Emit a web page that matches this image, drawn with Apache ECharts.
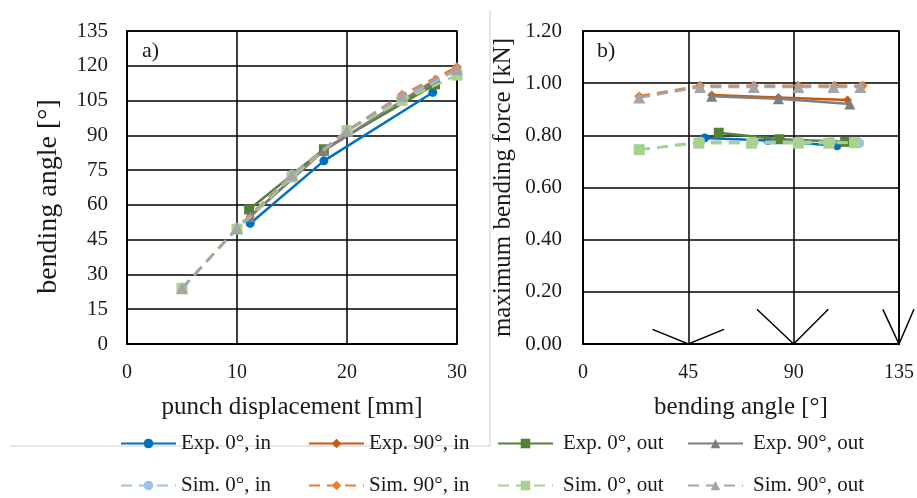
<!DOCTYPE html>
<html>
<head>
<meta charset="utf-8">
<script src="https://cdn.jsdelivr.net/npm/echarts@6/dist/echarts.min.js"></script>
<style>
html,body{margin:0;padding:0;background:#fff;}
#chart{width:917px;height:498px;}
</style>
</head>
<body>
<div id="chart"></div>
<script>
// ---------- data ----------
// a) bending angle vs punch displacement
var exp0inDisp   = [11.2, 17.9, 27.8];
var exp0inAngle  = [52, 79, 108.5];
var exp90inDisp  = [11.2, 17.9, 27.9];
var exp90inAngle = [55, 83.5, 113];
var exp0outDisp  = [11.1, 17.9, 28.0];
var exp0outAngle = [58, 84, 112];
var exp90outDisp = [11.2, 17.9, 28.0];
var exp90outAngle= [55, 83.5, 114];

var simDisp       = [5, 10, 15, 20, 25, 30];
var sim0inAngle   = [24, 50, 73, 92, 106, 118];
var sim90inAngle  = [24, 50, 73, 92, 107.5, 119.5];
var sim0outAngle  = [24, 49.5, 72, 92, 105, 116];
var sim90outAngle = [24, 50, 73, 92, 107, 118.5];

// b) maximum bending force vs bending angle
var exp0inForce   = [0.79, 0.78, 0.76];
var exp90inForce  = [0.955, 0.945, 0.935];
var exp0outForce  = [0.81, 0.785, 0.775];
var exp90outForce = [0.95, 0.94, 0.92];
var sim0inForce   = [0.745, 0.775, 0.775, 0.775, 0.775, 0.77];
var sim90inForce  = [0.95, 0.99, 0.99, 0.99, 0.99, 0.99];
var sim0outForce  = [0.745, 0.77, 0.77, 0.77, 0.77, 0.772];
var sim90outForce = [0.945, 0.985, 0.985, 0.985, 0.985, 0.985];

// decorative arrow strokes at the bottom of panel b) (data coordinates)
var arrow45X  = [29.7, 45, 60.2];
var arrow45Y  = [0.056, 0, 0.056];
var arrow90X  = [74.3, 90, 104.8];
var arrow90Y  = [0.133, 0, 0.133];
var arrow135X = [128.1, 135, 141.4];
var arrow135Y = [0.133, 0, 0.133];

// axis ticks
var dispTicks  = [0, 10, 20, 30];
var angleTicks = [0, 15, 30, 45, 60, 75, 90, 105, 120, 135];
var bAngleTicks= [0, 45, 90, 135];
var forceTicks = [0, 0.2, 0.4, 0.6, 0.8, 1.0, 1.2];

var names = ['Exp. 0°, in','Exp. 90°, in','Exp. 0°, out','Exp. 90°, out',
             'Sim. 0°, in','Sim. 90°, in','Sim. 0°, out','Sim. 90°, out'];

// ---------- chart ----------
function zip(xs, ys){ return xs.map(function(x,i){ return [x, ys[i]]; }); }
var FONT = 'Liberation Serif';
var TXT = '#1a1a1a';

var styles = [
  {color:'#0070C0', symbol:'circle',   size:9,  dashed:false},
  {color:'#C55A11', symbol:'diamond',  size:9,  dashed:false},
  {color:'#548235', symbol:'rect',     size:10, dashed:false},
  {color:'#7F7F7F', symbol:'triangle', size:11, dashed:false},
  {color:'#9DC3E6', symbol:'circle',   size:10, dashed:true},
  {color:'#ED7D31', symbol:'diamond',  size:10, dashed:true},
  {color:'#A9D18E', symbol:'rect',     size:11, dashed:true},
  {color:'#A5A5A5', symbol:'triangle', size:12, dashed:true}
];

var leftData = [
  zip(exp0inDisp, exp0inAngle), zip(exp90inDisp, exp90inAngle),
  zip(exp0outDisp, exp0outAngle), zip(exp90outDisp, exp90outAngle),
  zip(simDisp, sim0inAngle), zip(simDisp, sim90inAngle),
  zip(simDisp, sim0outAngle), zip(simDisp, sim90outAngle)
];
var rightData = [
  zip(exp0inAngle, exp0inForce), zip(exp90inAngle, exp90inForce),
  zip(exp0outAngle, exp0outForce), zip(exp90outAngle, exp90outForce),
  zip(sim0inAngle, sim0inForce), zip(sim90inAngle, sim90inForce),
  zip(sim0outAngle, sim0outForce), zip(sim90outAngle, sim90outForce)
];

function mkSeries(i, data, gi){
  var s = styles[i];
  return {
    name: names[i], type:'line', xAxisIndex:gi, yAxisIndex:gi,
    data: data, symbol: s.symbol, symbolSize: s.size, smooth:false,
    lineStyle:{color:s.color, width:2.5, type: s.dashed ? [11,7] : 'solid'},
    itemStyle:{color:s.color},
    emphasis:{disabled:true}, animation:false, z: 3 + i
  };
}
var series = [];
for (var i=0;i<8;i++){ series.push(mkSeries(i, leftData[i], 0)); }
for (var i=0;i<8;i++){ series.push(mkSeries(i, rightData[i], 1)); }

function axisCommon(){
  return {
    axisLine:{show:true, lineStyle:{color:'#000', width:1.5}},
    axisTick:{show:false},
    splitLine:{show:true, lineStyle:{color:'#000', width:1.5}},
    nameLocation:'middle',
    nameTextStyle:{fontFamily:FONT, fontSize:25, color:TXT},
    axisLabel:{fontFamily:FONT, fontSize:20, color:TXT}
  };
}
function ax(extra){ var o = axisCommon(); for (var k in extra){ if (typeof extra[k]==='object' && o[k] && !Array.isArray(extra[k])) { for (var j in extra[k]) o[k][j]=extra[k][j]; } else o[k]=extra[k]; } return o; }

var legends = [];
var legX = [115, 303, 492, 682];
var legY = [428, 470];
for (var i=0;i<8;i++){
  legends.push({
    data:[names[i]], left: legX[i%4], top: legY[Math.floor(i/4)],
    itemWidth:55, itemHeight:12, itemGap:0,
    textStyle:{fontFamily:FONT, fontSize:21, color:TXT, padding: (i%4>=2) ? [0,0,0,5] : 0},
    selectedMode:false
  });
}

var staticGraphics = [
  {id:'la', type:'text', left:142, top:40, style:{text:'a)', font:'22px "Liberation Serif"', fill:TXT}, z:100},
  {id:'lb', type:'text', left:597, top:40, style:{text:'b)', font:'22px "Liberation Serif"', fill:TXT}, z:100},
  {id:'sepv', type:'line', shape:{x1:490, y1:10, x2:490, y2:446}, style:{stroke:'#cfcfcf', lineWidth:1}, z:0},
  {id:'seph', type:'line', shape:{x1:10, y1:446, x2:490, y2:446}, style:{stroke:'#cfcfcf', lineWidth:1}, z:0}
];

var option = {
  backgroundColor:'#fff',
  animation:false,
  legend: legends,
  grid:[
    {left:127, top:31, width:330, height:313, show:true, borderColor:'#000', borderWidth:1.5, containLabel:false},
    {left:583, top:31, width:317, height:313, show:true, borderColor:'#000', borderWidth:1.5, containLabel:false}
  ],
  xAxis:[
    ax({type:'value', gridIndex:0, min:dispTicks[0], max:dispTicks[dispTicks.length-1], interval:dispTicks[1]-dispTicks[0],
        name:'punch displacement [mm]', nameGap:51, axisLabel:{margin:19}}),
    ax({type:'value', gridIndex:1, min:bAngleTicks[0], max:bAngleTicks[bAngleTicks.length-1], interval:bAngleTicks[1]-bAngleTicks[0],
        name:'bending angle [°]', nameGap:51, axisLabel:{margin:19}})
  ],
  yAxis:[
    ax({type:'value', gridIndex:0, min:angleTicks[0], max:angleTicks[angleTicks.length-1], interval:angleTicks[1]-angleTicks[0],
        name:'bending angle [°]', nameGap:64, axisLabel:{margin:19, fontSize:21},
        nameTextStyle:{fontSize:28, padding:[0,18,0,0]}}),
    ax({type:'value', gridIndex:1, min:forceTicks[0], max:forceTicks[forceTicks.length-1], interval:0.2,
        name:'maximum bending force [kN]', nameGap:67,
        axisLabel:{margin:21, fontSize:21, formatter:function(v){ return v.toFixed(2); }}})
  ],
  graphic: staticGraphics,
  series: series
};

var chart = echarts.init(document.getElementById('chart'), null, {renderer:'canvas'});
chart.setOption(option);

// arrow strokes placed through the right panel's own scales
var arrows = [[arrow45X,arrow45Y],[arrow90X,arrow90Y],[arrow135X,arrow135Y]];
var arrowGraphics = arrows.map(function(a, k){
  var pts = zip(a[0], a[1]).map(function(p){ return chart.convertToPixel({gridIndex:1}, p); });
  return {id:'arrow'+k, type:'polyline', shape:{points:pts}, style:{stroke:'#000', lineWidth:1.5, fill:null}, z:50, silent:true};
});
chart.setOption({graphic: staticGraphics.concat(arrowGraphics)});
</script>
</body>
</html>
